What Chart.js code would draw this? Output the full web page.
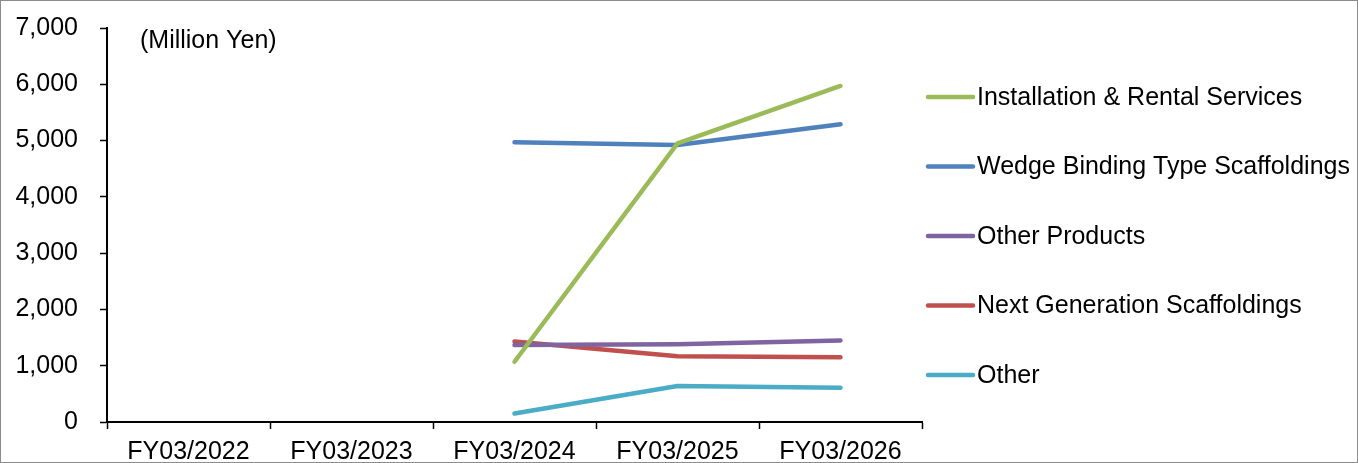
<!DOCTYPE html>
<html>
<head>
<meta charset="utf-8">
<script src="https://cdn.jsdelivr.net/npm/chart.js@4"></script>
<style>
  html, body { margin: 0; padding: 0; background: #fff; }
  #wrap { position: relative; width: 1358px; height: 463px; }
</style>
</head>
<body>
<div id="wrap"><canvas id="myChart"></canvas></div>
<script>
const years = ['FY03/2022', 'FY03/2023', 'FY03/2024', 'FY03/2025', 'FY03/2026']

// values in million yen (no data for the first two years)
const installRental = [null, null, 1070, 4950, 5970]
const wedgeBinding = [null, null, 4970, 4920, 5290]
const otherProducts = [null, null, 1370, 1380, 1450]
const nextGeneration = [null, null, 1430, 1170, 1150]
const other = [null, null, 150, 640, 610]

const seriesNames = ['Installation & Rental Services', 'Wedge Binding Type Scaffoldings', 'Other Products', 'Next Generation Scaffoldings', 'Other']
const seriesColors = ['#9BBB59', '#4F81BD', '#8064A2', '#C0504D', '#4BACC6']
const seriesValues = [installRental, wedgeBinding, otherProducts, nextGeneration, other]

const yTicks = [0, 1000, 2000, 3000, 4000, 5000, 6000, 7000]
const unitLabel = '(Million Yen)'

const FONT = '"Liberation Sans", Arial, sans-serif'
const FONT_SIZE = 25
const ctx = document.getElementById('myChart')

const datasets = seriesNames.map((name, i) => ({
  label: name,
  data: seriesValues[i],
  borderColor: seriesColors[i],
  backgroundColor: seriesColors[i],
  borderWidth: 4.5,
  borderCapStyle: 'round',
  borderJoinStyle: 'round',
  pointRadius: 0,
  tension: 0,
  spanGaps: false
}))

// unit text, legend at the right and the thin frame around the picture
const extras = {
  id: 'extras',
  afterDraw(chart) {
    const c = chart.ctx
    const area = chart.chartArea
    c.save()
    c.font = FONT_SIZE + 'px ' + FONT
    c.fillStyle = '#000'
    c.textBaseline = 'middle'
    c.textAlign = 'left'
    c.fillText(unitLabel, area.left + 33, 41)

    const legendTop = 97
    const rowGap = 69.5
    chart.data.datasets.forEach((ds, i) => {
      const y = legendTop + i * rowGap
      c.strokeStyle = ds.borderColor
      c.lineWidth = 4.5
      c.lineCap = 'round'
      c.beginPath()
      c.moveTo(area.right + 6, y)
      c.lineTo(area.right + 51, y)
      c.stroke()
      c.fillStyle = '#000'
      c.fillText(ds.label, area.right + 55, y + 1)
    })

    c.strokeStyle = '#8c8c8c'
    c.lineWidth = 1
    c.strokeRect(0.5, 0.5, chart.width - 1, chart.height - 1)
    c.restore()
  }
}

let myChart = new Chart(ctx, {
  type: 'line',
  data: {
    labels: years,
    datasets: datasets
  },
  options: {
    responsive: true,
    maintainAspectRatio: false,
    animation: false,
    layout: {
      padding: { top: 28, right: 436, left: 0, bottom: 0 }
    },
    plugins: {
      legend: { display: false },
      tooltip: { enabled: false }
    },
    scales: {
      x: {
        offset: true,
        grid: {
          offset: true,
          drawOnChartArea: false,
          drawTicks: true,
          tickLength: 7,
          tickColor: '#000',
          tickWidth: 1.5
        },
        border: { color: '#000', width: 2 },
        ticks: {
          color: '#000',
          font: { family: FONT, size: FONT_SIZE },
          padding: 8,
          maxRotation: 0,
          autoSkip: false
        },
        afterFit(scale) {
          scale.height = 41
          scale.paddingLeft = 0
          scale.paddingRight = 0
        }
      },
      y: {
        min: 0,
        max: 7000,
        afterBuildTicks(scale) { scale.ticks = yTicks.map(v => ({ value: v })) },
        grid: {
          drawOnChartArea: false,
          drawTicks: true,
          tickLength: 7,
          tickColor: '#000',
          tickWidth: 1.5
        },
        border: { color: '#000', width: 2 },
        ticks: {
          color: '#000',
          font: { family: FONT, size: FONT_SIZE },
          padding: 22,
          callback: v => v.toLocaleString('en-US')
        },
        afterFit(scale) {
          scale.width = 107
          scale.paddingTop = 0
          scale.paddingBottom = 0
        }
      }
    }
  },
  plugins: [extras]
})
</script>
</body>
</html>
